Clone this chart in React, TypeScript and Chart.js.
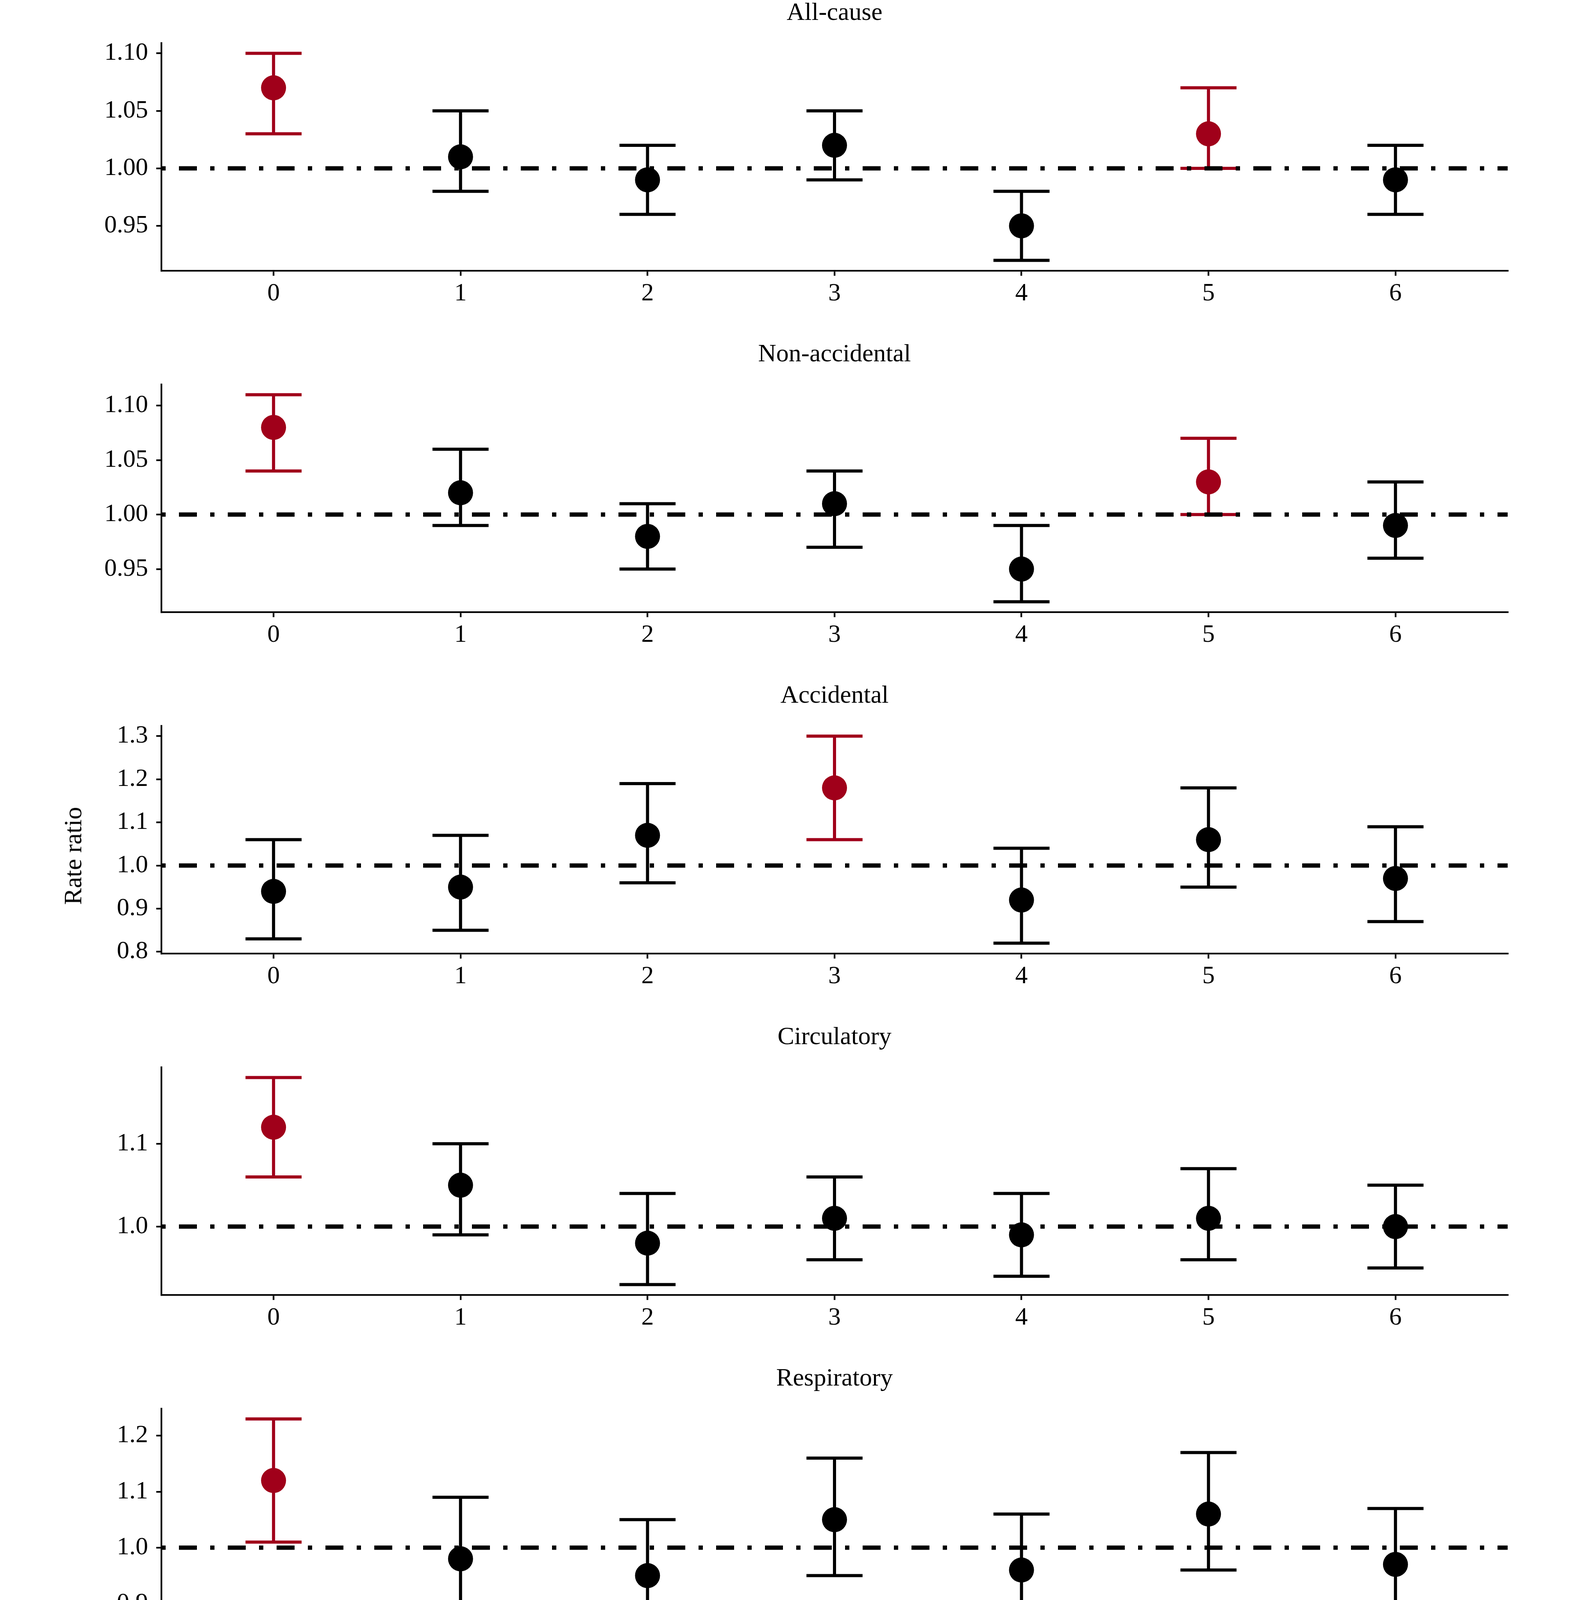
import React, { useEffect, useRef } from "react";
import { Chart, registerables } from "chart.js";

Chart.register(...registerables);

const FONT = "'Liberation Serif', 'Times New Roman', serif";
const RED = "#A0001A";
const BLACK = "#000000";

// ---------- data ----------
const lagDays = [0, 1, 2, 3, 4, 5, 6];
const lagLabels = ["0", "1", "2", "3", "4", "5", "6"];

const panelTitles = ["All-cause", "Non-accidental", "Accidental", "Circulatory", "Respiratory"];

const allCauseRR = [1.07, 1.01, 0.99, 1.02, 0.95, 1.03, 0.99];
const allCauseLower = [1.03, 0.98, 0.96, 0.99, 0.92, 1.0, 0.96];
const allCauseUpper = [1.1, 1.05, 1.02, 1.05, 0.98, 1.07, 1.02];
const allCauseSignificant = [true, false, false, false, false, true, false];

const nonAccidentalRR = [1.08, 1.02, 0.98, 1.01, 0.95, 1.03, 0.99];
const nonAccidentalLower = [1.04, 0.99, 0.95, 0.97, 0.92, 1.0, 0.96];
const nonAccidentalUpper = [1.11, 1.06, 1.01, 1.04, 0.99, 1.07, 1.03];
const nonAccidentalSignificant = [true, false, false, false, false, true, false];

const accidentalRR = [0.94, 0.95, 1.07, 1.18, 0.92, 1.06, 0.97];
const accidentalLower = [0.83, 0.85, 0.96, 1.06, 0.82, 0.95, 0.87];
const accidentalUpper = [1.06, 1.07, 1.19, 1.3, 1.04, 1.18, 1.09];
const accidentalSignificant = [false, false, false, true, false, false, false];

const circulatoryRR = [1.12, 1.05, 0.98, 1.01, 0.99, 1.01, 1.0];
const circulatoryLower = [1.06, 0.99, 0.93, 0.96, 0.94, 0.96, 0.95];
const circulatoryUpper = [1.18, 1.1, 1.04, 1.06, 1.04, 1.07, 1.05];
const circulatorySignificant = [true, false, false, false, false, false, false];

const respiratoryRR = [1.12, 0.98, 0.95, 1.05, 0.96, 1.06, 0.97];
const respiratoryLower = [1.01, 0.89, 0.86, 0.95, 0.86, 0.96, 0.87];
const respiratoryUpper = [1.23, 1.09, 1.05, 1.16, 1.06, 1.17, 1.07];
const respiratorySignificant = [true, false, false, false, false, false, false];

const allCauseTicks = [0.95, 1.0, 1.05, 1.1];
const allCauseTickLabels = ["0.95", "1.00", "1.05", "1.10"];
const nonAccidentalTicks = [0.95, 1.0, 1.05, 1.1];
const nonAccidentalTickLabels = ["0.95", "1.00", "1.05", "1.10"];
const accidentalTicks = [0.8, 0.9, 1.0, 1.1, 1.2, 1.3];
const accidentalTickLabels = ["0.8", "0.9", "1.0", "1.1", "1.2", "1.3"];
const circulatoryTicks = [1.0, 1.1];
const circulatoryTickLabels = ["1.0", "1.1"];
const respiratoryTicks = [0.9, 1.0, 1.1, 1.2];
const respiratoryTickLabels = ["0.9", "1.0", "1.1", "1.2"];

const referenceValue = 1.0;
const xAxisTitle = "Lag day";
const yAxisTitle = "Rate ratio";

const panels = [
  { title: panelTitles[0], rr: allCauseRR, lower: allCauseLower, upper: allCauseUpper, sig: allCauseSignificant, ticks: allCauseTicks, tickLabels: allCauseTickLabels },
  { title: panelTitles[1], rr: nonAccidentalRR, lower: nonAccidentalLower, upper: nonAccidentalUpper, sig: nonAccidentalSignificant, ticks: nonAccidentalTicks, tickLabels: nonAccidentalTickLabels },
  { title: panelTitles[2], rr: accidentalRR, lower: accidentalLower, upper: accidentalUpper, sig: accidentalSignificant, ticks: accidentalTicks, tickLabels: accidentalTickLabels },
  { title: panelTitles[3], rr: circulatoryRR, lower: circulatoryLower, upper: circulatoryUpper, sig: circulatorySignificant, ticks: circulatoryTicks, tickLabels: circulatoryTickLabels },
  { title: panelTitles[4], rr: respiratoryRR, lower: respiratoryLower, upper: respiratoryUpper, sig: respiratorySignificant, ticks: respiratoryTicks, tickLabels: respiratoryTickLabels },
];

// ---------- layout ----------
const W = 4016;
const H = 4395;
const PANEL_H = 874;
const PLOT_LEFT = 413;
const RIGHT_PAD = 157;
const PLOT_BOTTOM = 693; // relative to panel top
const X_MIN = -0.6;
const X_MAX = 6.6;
const CAP_HALF = 0.15;
const AXIS_W = 4.3;

function Panel({ index }: { index: number }) {
  const ref = useRef<HTMLCanvasElement | null>(null);

  useEffect(() => {
    const p = panels[index];
    const lo = Math.min(...p.lower);
    const hi = Math.max(...p.upper);
    const pad = (hi - lo) * 0.05;
    const colors = p.sig.map((s) => (s ? RED : BLACK));

    const errorBars = {
      id: "errorBars" + index,
      beforeDatasetsDraw(chart: any) {
        const { ctx } = chart;
        const xs = chart.scales.x;
        const ys = chart.scales.y;
        ctx.save();
        ctx.lineWidth = 8;
        ctx.lineCap = "butt";
        lagDays.forEach((lag, i) => {
          const px = xs.getPixelForValue(lag);
          const pl = xs.getPixelForValue(lag - CAP_HALF);
          const pr = xs.getPixelForValue(lag + CAP_HALF);
          const yl = ys.getPixelForValue(p.lower[i]);
          const yh = ys.getPixelForValue(p.upper[i]);
          ctx.strokeStyle = colors[i];
          ctx.beginPath();
          ctx.moveTo(px, yl);
          ctx.lineTo(px, yh);
          ctx.moveTo(pl, yl);
          ctx.lineTo(pr, yl);
          ctx.moveTo(pl, yh);
          ctx.lineTo(pr, yh);
          ctx.stroke();
        });
        ctx.restore();
      },
    };

    const chart = new Chart(ref.current as HTMLCanvasElement, {
      type: "scatter",
      data: {
        datasets: [
          {
            data: [
              { x: X_MIN, y: referenceValue },
              { x: X_MAX, y: referenceValue },
            ],
            showLine: true,
            borderColor: BLACK,
            borderWidth: 11,
            borderDash: [11, 34, 46, 34],
            borderCapStyle: "butt",
            pointRadius: 0,
            pointHoverRadius: 0,
            order: 0,
          } as any,
          {
            data: lagDays.map((lag, i) => ({ x: lag, y: p.rr[i] })),
            pointRadius: 32,
            pointHoverRadius: 32,
            pointBackgroundColor: colors,
            pointBorderColor: colors,
            pointBorderWidth: 0,
            order: 1,
            clip: false,
          } as any,
        ],
      },
      options: {
        animation: false,
        responsive: false,
        devicePixelRatio: 1,
        events: [],
        layout: { padding: { left: 0, right: RIGHT_PAD, top: 0, bottom: 0 } },
        plugins: {
          legend: { display: false },
          tooltip: { enabled: false },
          title: {
            display: true,
            text: p.title,
            color: BLACK,
            fullSize: false,
            font: { family: FONT, size: 64, weight: "normal", lineHeight: 1 },
            padding: { top: 2, bottom: 44 },
          },
        },
        scales: {
          x: {
            type: "linear",
            min: X_MIN,
            max: X_MAX,
            afterBuildTicks: (scale: any) => {
              scale.ticks = lagDays.map((v) => ({ value: v }));
            },
            afterFit: (scale: any) => {
              scale.height = PANEL_H - PLOT_BOTTOM;
            },
            ticks: {
              callback: (_v: any, i: number) => lagLabels[i],
              font: { family: FONT, size: 64 },
              color: BLACK,
              padding: 8,
              maxRotation: 0,
              autoSkip: false,
            },
            grid: { display: true, drawOnChartArea: false, drawTicks: true, tickLength: 13, lineWidth: AXIS_W, color: BLACK },
            border: { display: true, color: BLACK, width: AXIS_W },
          },
          y: {
            type: "linear",
            min: lo - pad,
            max: hi + pad,
            afterBuildTicks: (scale: any) => {
              scale.ticks = p.ticks.map((v) => ({ value: v }));
            },
            afterFit: (scale: any) => {
              scale.width = PLOT_LEFT;
            },
            ticks: {
              callback: (_v: any, i: number) => p.tickLabels[i],
              font: { family: FONT, size: 64 },
              color: BLACK,
              padding: 21,
              autoSkip: false,
            },
            grid: { display: true, drawOnChartArea: false, drawTicks: true, tickLength: 13, lineWidth: AXIS_W, color: BLACK },
            border: { display: true, color: BLACK, width: AXIS_W },
          },
        },
      } as any,
      plugins: [errorBars as any],
    });
    return () => chart.destroy();
  }, [index]);

  return (
    <canvas
      ref={ref}
      width={W}
      height={PANEL_H}
      style={{ position: "absolute", left: 0, top: index * PANEL_H, width: W, height: PANEL_H, display: "block" }}
    />
  );
}

export default function App() {
  return (
    <div style={{ position: "absolute", left: 0, top: 0, width: W, height: H, overflow: "hidden", background: "#ffffff" }}>
      {panels.map((_, i) => (
        <Panel key={i} index={i} />
      ))}
      <div
        style={{
          position: "absolute",
          left: 2136,
          top: 4321,
          transform: "translateX(-50%)",
          fontFamily: FONT,
          fontSize: 64,
          lineHeight: "64px",
          whiteSpace: "nowrap",
          color: BLACK,
        }}
      >
        {xAxisTitle}
      </div>
      <div
        style={{
          position: "absolute",
          left: 187,
          top: 2191,
          transform: "translate(-50%, -50%) rotate(-90deg)",
          fontFamily: FONT,
          fontSize: 64,
          lineHeight: "64px",
          whiteSpace: "nowrap",
          color: BLACK,
        }}
      >
        {yAxisTitle}
      </div>
    </div>
  );
}
